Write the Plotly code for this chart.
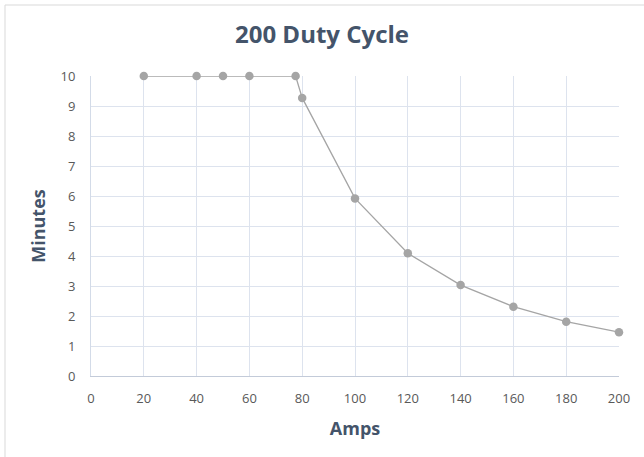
import plotly.graph_objects as go

amps = [20, 40, 50, 60, 77.5, 80, 100, 120, 140, 160, 180, 200]
minutes = [10, 10, 10, 10, 10, 9.27, 5.92, 4.09, 3.03, 2.31, 1.81, 1.46]

x_ticks = list(range(0, 201, 20))
y_ticks = list(range(0, 11, 1))

W, H = 644, 457
ml, mr, mt, mb = 91, 25, 76, 81
pw, ph = W - ml - mr, H - mt - mb

fig = go.Figure()
fig.add_trace(go.Scatter(
    x=amps, y=minutes, mode="lines+markers",
    line=dict(color="#a5a5a5", width=1.3),
    marker=dict(color="#a5a5a5", size=8.5),
    cliponaxis=False,
    showlegend=False,
))

font_family = "Open Sans, Liberation Sans, sans-serif"
fig.update_layout(
    width=W, height=H,
    margin=dict(l=ml, r=mr, t=mt, b=mb),
    paper_bgcolor="white", plot_bgcolor="white",
    font=dict(family=font_family, color="#595959", size=13),
    title=dict(text="<b>200 Duty Cycle</b>", x=0.5, xanchor="center",
               y=1 - 35 / H, yanchor="middle",
               font=dict(size=24, color="#44546a", family=font_family)),
    xaxis=dict(range=[0, 200], tickvals=x_ticks, showgrid=True,
               gridcolor="#dde3ee", gridwidth=1,
               showline=True, linecolor="#c3cbd9", linewidth=1,
               zeroline=False, ticks="", ticklen=0, ticklabelstandoff=10,
               tickfont=dict(size=13, color="#595959"),
               title=dict(text="<b>Amps</b>", standoff=16,
                          font=dict(size=18, color="#44546a"))),
    yaxis=dict(range=[0, 10], tickvals=y_ticks, showgrid=True,
               gridcolor="#dde3ee", gridwidth=1,
               showline=True, linecolor="#d3dbe8", linewidth=1,
               zeroline=False, ticks="", ticklabelstandoff=12,
               tickfont=dict(size=13, color="#595959"),
               title=dict(text="<b>Minutes</b>", standoff=10,
                          font=dict(size=18, color="#44546a"))),
)

# chart-area border (right/bottom edges fall outside the picture)
fig.add_shape(type="rect", xref="paper", yref="paper",
              x0=(5 - ml) / pw, x1=(W + 6 - ml) / pw,
              y0=-(mb + 6) / ph, y1=1 + (mt - 5) / ph,
              line=dict(color="#d9d9d9", width=1), layer="below")

fig.write_html("out.html", config={"displayModeBar": False},
               post_script="document.body.style.margin='0';")
